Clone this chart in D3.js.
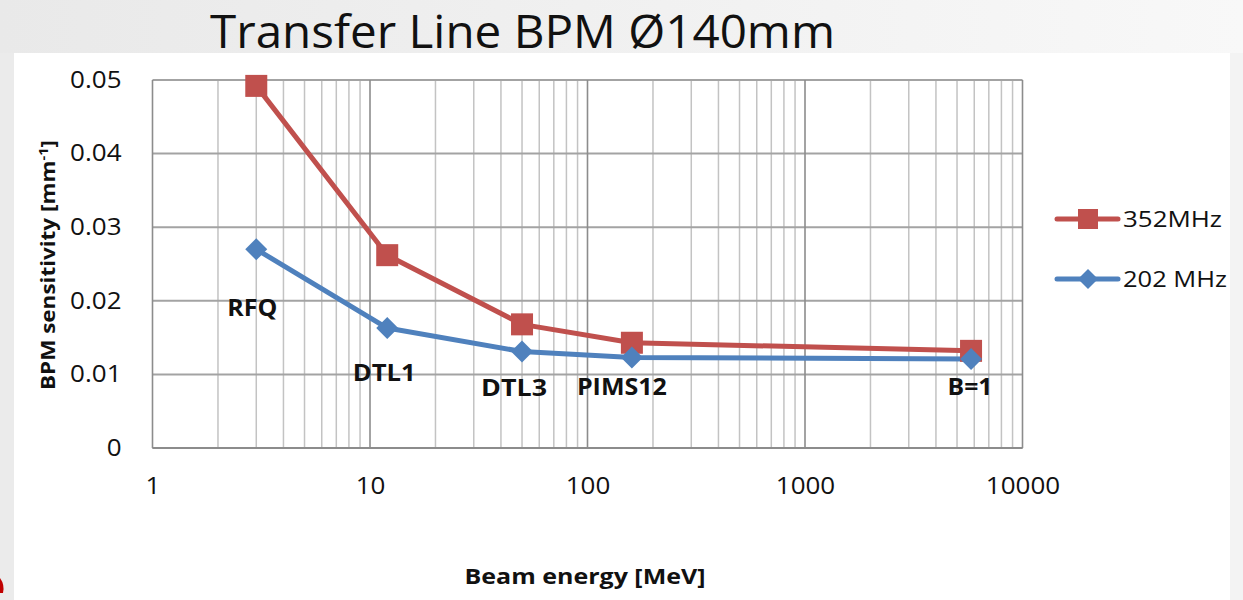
<!DOCTYPE html>
<html>
<head>
<meta charset="utf-8">
<script src="https://cdn.jsdelivr.net/npm/d3@7"></script>
<style>
  body { margin: 0; background: #fff; }
  svg { display: block; }
  text { font-family: "Open Sans", "DejaVu Sans", sans-serif; fill: #111; }
</style>
</head>
<body>
<svg id="chart" width="1243" height="600"></svg>
<script>
// Accelerator stages and beam energy at each stage (MeV)
const stages = ["RFQ", "DTL1", "DTL3", "PIMS12", "B=1"];
const energyMeV = [3, 12, 50, 160, 5800];
// BPM sensitivity (1/mm) for the two RF frequencies
const sens352 = [0.0492, 0.0262, 0.0168, 0.0143, 0.0132];
const sens202 = [0.0270, 0.0163, 0.0131, 0.0123, 0.0121];
const seriesNames = ["352MHz", "202 MHz"];
// Axis ticks
const xTicks = [1, 10, 100, 1000, 10000];
const yTicks = [0, 0.01, 0.02, 0.03, 0.04, 0.05];

// Layout: offsets of stage labels from the 202 MHz marker, and label widths
const labelLayout = [
  { dx: -4, dy: 67, w: 50 },
  { dx: -3, dy: 53, w: 63 },
  { dx: -8, dy: 44, w: 66 },
  { dx: -10, dy: 38, w: 90 },
  { dx: -1, dy: 36, w: 45 }
];

const svg = d3.select("#chart");
const W = 1243, H = 600;
const plot = { left: 152.5, right: 1022.5, top: 80, bottom: 448 };

const x = d3.scaleLog().domain([1, 10000]).range([plot.left, plot.right]);
const y = d3.scaleLinear().domain([0, 0.05]).range([plot.bottom, plot.top]);

const colors = { red: "#C0504D", blue: "#4F81BD" };

// Slide background: grey frame with white panel
const defs = svg.append("defs");
const grad = defs.append("linearGradient").attr("id", "topband").attr("x1", 0).attr("x2", 1).attr("y1", 0).attr("y2", 0);
grad.append("stop").attr("offset", 0).attr("stop-color", "#e9e9e9");
grad.append("stop").attr("offset", 1).attr("stop-color", "#f8f8f8");
svg.append("rect").attr("width", W).attr("height", H).attr("fill", "url(#topband)");
svg.append("rect").attr("x", 0).attr("y", 53).attr("width", 14).attr("height", H - 53).attr("fill", "#ebebeb");
svg.append("rect").attr("x", 1230).attr("y", 53).attr("width", 13).attr("height", H - 53).attr("fill", "#f3f3f3");
svg.append("rect").attr("x", 14).attr("y", 53).attr("width", 1216).attr("height", H - 53).attr("fill", "#ffffff");
svg.append("path").attr("d", "M0,578 Q5,585 3,593 L0,593 Z").attr("fill", "#c00000");

// Title
svg.append("text")
  .attr("x", 210).attr("y", 48)
  .attr("font-size", 46)
  .attr("textLength", 625).attr("lengthAdjust", "spacingAndGlyphs")
  .text("Transfer Line BPM Ø140mm");

// Gridlines
const grid = svg.append("g");
const minorX = [];
for (let d = 1; d < 10000; d *= 10) for (let k = 2; k <= 9; k++) minorX.push(d * k);
grid.selectAll("line.minor").data(minorX).join("line")
  .attr("x1", d => x(d)).attr("x2", d => x(d))
  .attr("y1", plot.top).attr("y2", plot.bottom)
  .attr("stroke", "#c3c3c3").attr("stroke-width", 1.5);
grid.selectAll("line.hy").data(yTicks).join("line")
  .attr("x1", plot.left).attr("x2", plot.right)
  .attr("y1", d => y(d)).attr("y2", d => y(d))
  .attr("stroke", "#a3a3a3").attr("stroke-width", 2);
grid.selectAll("line.major").data(xTicks).join("line")
  .attr("x1", d => x(d)).attr("x2", d => x(d))
  .attr("y1", plot.top).attr("y2", plot.bottom)
  .attr("stroke", "#8c8c8c").attr("stroke-width", 1.6);
grid.append("line")
  .attr("x1", plot.left).attr("x2", plot.right)
  .attr("y1", plot.bottom).attr("y2", plot.bottom)
  .attr("stroke", "#8c8c8c").attr("stroke-width", 2);

// Axes (labels only); tick text is widened slightly to the slide's proportions
const widen = sel => sel.each(function () {
  const len = this.getComputedTextLength();
  d3.select(this).attr("textLength", len * 1.13).attr("lengthAdjust", "spacingAndGlyphs");
});

const yAxis = d3.axisLeft(y).tickValues(yTicks).tickSize(0).tickPadding(31)
  .tickFormat(d => d === 0 ? "0" : d3.format(".2f")(d));
const gy = svg.append("g").attr("transform", `translate(${plot.left},0)`).call(yAxis);
gy.select(".domain").remove();
gy.selectAll("text").attr("font-size", 23).attr("font-family", "Open Sans, sans-serif").attr("fill", "#1a1a1a").call(widen);

const xAxis = d3.axisBottom(x).tickValues(xTicks).tickSize(0).tickPadding(30)
  .tickFormat(d3.format("d"));
const gx = svg.append("g").attr("transform", `translate(0,${plot.bottom})`).call(xAxis);
gx.select(".domain").remove();
gx.selectAll("text").attr("font-size", 23).attr("font-family", "Open Sans, sans-serif").attr("fill", "#1a1a1a").call(widen);

// Axis titles
svg.append("text")
  .attr("x", 585).attr("y", 584)
  .attr("text-anchor", "middle")
  .attr("font-size", 21).attr("font-weight", "bold")
  .attr("textLength", 241).attr("lengthAdjust", "spacingAndGlyphs")
  .text("Beam energy [MeV]");

const yt = svg.append("text")
  .attr("transform", "translate(55,265) rotate(-90)")
  .attr("text-anchor", "middle")
  .attr("font-size", 20).attr("font-weight", "bold")
  .attr("textLength", 250).attr("lengthAdjust", "spacingAndGlyphs");
yt.append("tspan").text("BPM sensitivity  [mm");
yt.append("tspan").attr("dy", -7).attr("font-size", 13).text("-1");
yt.append("tspan").attr("dy", 7).text("]");

// Series lines and markers
const pts352 = energyMeV.map((e, i) => [e, sens352[i]]);
const pts202 = energyMeV.map((e, i) => [e, sens202[i]]);
const line = d3.line().x(d => x(d[0])).y(d => y(d[1]));

svg.append("path").datum(pts352).attr("d", line)
  .attr("fill", "none").attr("stroke", colors.red).attr("stroke-width", 5).attr("stroke-linejoin", "round");
svg.append("path").datum(pts202).attr("d", line)
  .attr("fill", "none").attr("stroke", colors.blue).attr("stroke-width", 5).attr("stroke-linejoin", "round");

const sq = 22;
svg.selectAll("rect.m352").data(pts352).join("rect")
  .attr("x", d => x(d[0]) - sq / 2).attr("y", d => y(d[1]) - sq / 2)
  .attr("width", sq).attr("height", sq).attr("fill", colors.red);

const dia = 11;
const diamond = (cx, cy, r) => `M${cx},${cy - r}L${cx + r},${cy}L${cx},${cy + r}L${cx - r},${cy}Z`;
svg.selectAll("path.m202").data(pts202).join("path")
  .attr("d", d => diamond(x(d[0]), y(d[1]), dia)).attr("fill", colors.blue);

// Stage labels under the 202 MHz markers
svg.selectAll("text.stage").data(stages).join("text")
  .attr("x", (s, i) => x(energyMeV[i]) + labelLayout[i].dx)
  .attr("y", (s, i) => y(sens202[i]) + labelLayout[i].dy)
  .attr("text-anchor", "middle")
  .attr("font-size", 23).attr("font-weight", "bold")
  .attr("textLength", (s, i) => labelLayout[i].w).attr("lengthAdjust", "spacingAndGlyphs")
  .text(s => s);

// Legend
const legend = [
  { name: seriesNames[0], color: colors.red, shape: "square", y: 219 },
  { name: seriesNames[1], color: colors.blue, shape: "diamond", y: 279 }
];
const lg = svg.append("g");
legend.forEach(l => {
  lg.append("line").attr("x1", 1057).attr("x2", 1118).attr("y1", l.y).attr("y2", l.y)
    .attr("stroke", l.color).attr("stroke-width", 5).attr("stroke-linecap", "round");
  if (l.shape === "square") {
    lg.append("rect").attr("x", 1088 - 10).attr("y", l.y - 10).attr("width", 20).attr("height", 20).attr("fill", l.color);
  } else {
    lg.append("path").attr("d", diamond(1088, l.y, 10)).attr("fill", l.color);
  }
  lg.append("text").attr("x", 1123).attr("y", l.y + 8)
    .attr("font-size", 22)
    .attr("textLength", l.shape === "square" ? 99 : 104).attr("lengthAdjust", "spacingAndGlyphs")
    .text(l.name);
});
</script>
</body>
</html>
